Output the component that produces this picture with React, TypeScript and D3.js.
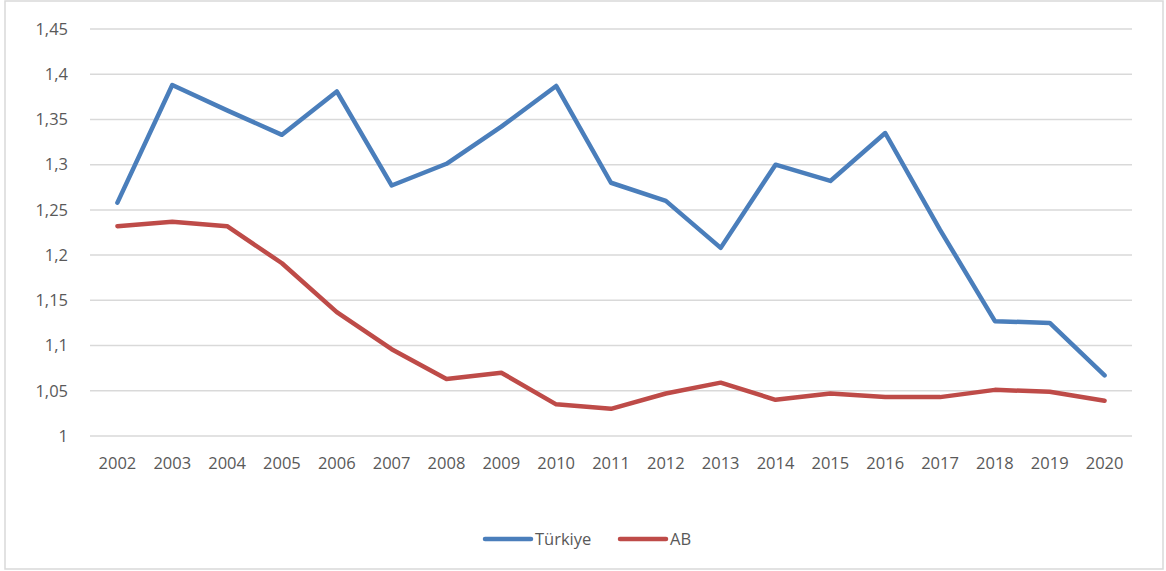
import React from "react";
import * as d3 from "d3";

const years = ["2002","2003","2004","2005","2006","2007","2008","2009","2010","2011","2012","2013","2014","2015","2016","2017","2018","2019","2020"];
const turkiye = [1.258,1.388,1.36,1.333,1.381,1.277,1.301,1.342,1.387,1.28,1.26,1.208,1.3,1.282,1.335,1.228,1.127,1.125,1.067];
const ab = [1.232,1.237,1.232,1.191,1.137,1.096,1.063,1.07,1.035,1.03,1.047,1.059,1.04,1.047,1.043,1.043,1.051,1.049,1.039];
const yTicks = [1,1.05,1.1,1.15,1.2,1.25,1.3,1.35,1.4,1.45];
const seriesNames = ["Türkiye","AB"];
const colors = ["#4A7EBB","#BE4B48"];

const W = 1166, H = 571;
const font = "'Open Sans', 'Liberation Sans', sans-serif";

export default function App() {
  const x = d3.scaleBand<string>().domain(years).range([90, 1132]);
  const y = d3.scaleLinear().domain([1, 1.45]).range([436, 29]);
  const line = d3.line<number>()
    .x((_, i) => (x(years[i]) as number) + x.bandwidth() / 2)
    .y((d) => y(d));
  const fmt = (v: number) => String(+v.toFixed(2)).replace(".", ",");
  const data = [turkiye, ab];
  const legendX = [483, 618];
  return (
    <svg width={W} height={H} style={{ position: "absolute", left: 0, top: 0, background: "#fff" }}>
      <rect x={5} y={1} width={1158} height={568} fill="#fff" stroke="#d9d9d9" strokeWidth={1.5} />
      {yTicks.map((t) => (
        <g key={t}>
          <line x1={90} x2={1132} y1={y(t)} y2={y(t)} stroke="#d9d9d9" strokeWidth={1.5} />
          <text x={68} y={y(t)} dy="0.35em" textAnchor="end" fontFamily={font} fontSize={16.5} fill="#595959">{fmt(t)}</text>
        </g>
      ))}
      {years.map((yr) => (
        <text key={yr} x={(x(yr) as number) + x.bandwidth() / 2} y={463} dy="0.35em" textAnchor="middle" fontFamily={font} fontSize={16.5} fill="#595959">{yr}</text>
      ))}
      {data.map((d, i) => (
        <path key={i} d={line(d) || ""} fill="none" stroke={colors[i]} strokeWidth={4.5} strokeLinejoin="round" strokeLinecap="round" />
      ))}
      {seriesNames.map((n, i) => (
        <g key={n}>
          <line x1={legendX[i] + 2} x2={legendX[i] + 48} y1={539} y2={539} stroke={colors[i]} strokeWidth={4.5} strokeLinecap="round" />
          <text x={legendX[i] + 52} y={539} dy="0.35em" fontFamily={font} fontSize={16.5} fill="#595959">{n}</text>
        </g>
      ))}
    </svg>
  );
}
